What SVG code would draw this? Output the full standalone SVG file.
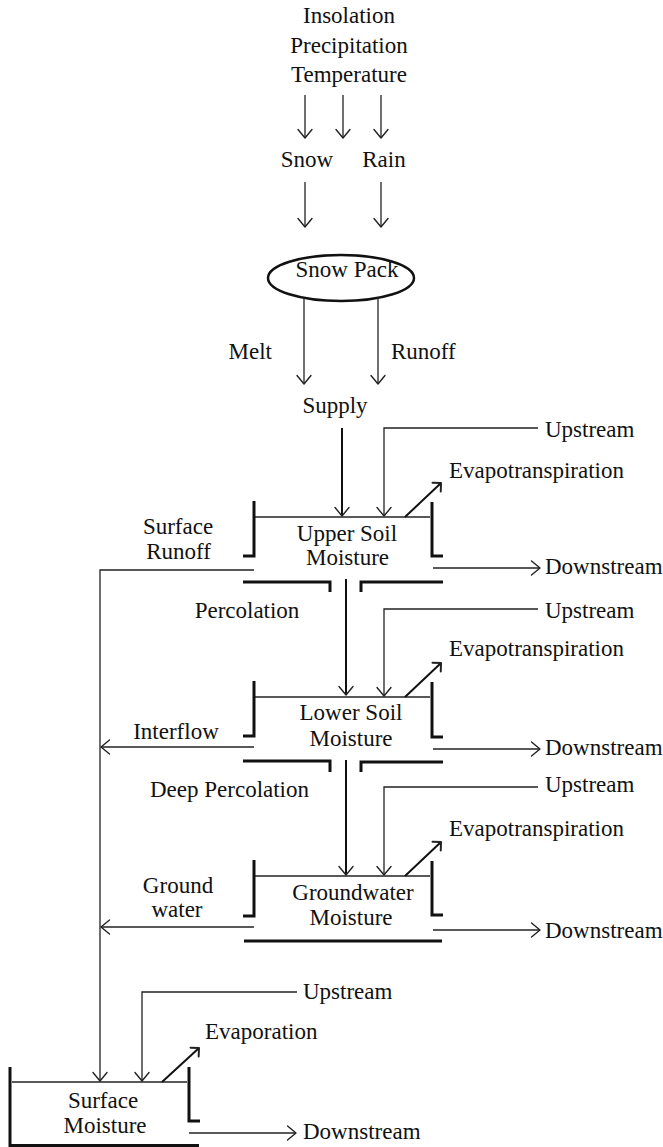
<svg xmlns="http://www.w3.org/2000/svg" width="663" height="1147" viewBox="0 0 663 1147">
<style>
text{font-family:"Liberation Serif","Times New Roman",serif;font-size:23px;fill:#111}
.m{text-anchor:middle}
.e{text-anchor:end}
.thin{fill:none;stroke:#222;stroke-width:1.3}
.med{fill:none;stroke:#111;stroke-width:2}
.thick{fill:none;stroke:#111;stroke-width:3}
.ah{fill:none;stroke:#222;stroke-width:1.4;stroke-linecap:round;stroke-linejoin:round}
</style>
<defs>
<marker id="arr" markerUnits="userSpaceOnUse" orient="auto" refX="0" refY="0" markerWidth="20" markerHeight="20" viewBox="-12 -10 14 20" overflow="visible">
<path class="ah" d="M-8.5,-7 L0,0 L-8.5,7"/>
</marker>
<marker id="arrE" markerUnits="userSpaceOnUse" orient="auto" refX="0" refY="0" markerWidth="20" markerHeight="20" viewBox="-12 -10 14 20" overflow="visible">
<path class="ah" d="M-6,-6 L0,0 L-6,6" style="stroke-width:2"/>
</marker>
</defs>

<g id="inputs">
<text class="m" x="349" y="23">Insolation</text>
<text class="m" x="349" y="53">Precipitation</text>
<text class="m" x="349" y="82">Temperature</text>
</g>
<g id="snow"><text class="m" x="307" y="167">Snow</text></g>
<g id="rain"><text class="m" x="384" y="167">Rain</text></g>
<g id="snowpack">
<ellipse cx="341" cy="278" rx="73" ry="23" fill="none" stroke="#111" stroke-width="2.5"/>
<text class="m" x="347" y="277">Snow Pack</text>
</g>
<g id="melt"><text class="e" x="272" y="359">Melt</text></g>
<g id="runoff"><text x="391" y="359">Runoff</text></g>
<g id="supply"><text class="m" x="335" y="413">Supply</text></g>

<g id="upper-soil">
<path class="thin" d="M255,517 H430"/>
<path class="thick" d="M254,501 V556 H243"/>
<path class="thick" d="M432,502 V556 H443"/>
<path class="thick" d="M243,582 H330 V592"/>
<path class="thick" d="M361,592 V582 H443"/>
<text class="m" x="347" y="541">Upper Soil</text>
<text class="m" x="347.5" y="565">Moisture</text>
</g>
<g id="lower-soil">
<path class="thin" d="M255,697 H430"/>
<path class="thick" d="M254,681 V736 H243"/>
<path class="thick" d="M432,682 V737 H443"/>
<path class="thick" d="M243,761 H330 V772"/>
<path class="thick" d="M361,772 V762 H443"/>
<text class="m" x="351" y="720">Lower Soil</text>
<text class="m" x="351" y="746">Moisture</text>
</g>
<g id="groundwater">
<path class="thin" d="M255,876 H430"/>
<path class="thick" d="M254,860 V916 H243"/>
<path class="thick" d="M432,861 V915 H443"/>
<path class="thick" d="M244,941 H442"/>
<text class="m" x="353" y="900">Groundwater</text>
<text class="m" x="351" y="925">Moisture</text>
</g>
<g id="surface-moisture">
<path class="thin" d="M12,1082 H187"/>
<path class="thick" d="M10,1067 V1145.5 H199"/>
<path class="thick" d="M189,1067 V1121 H200"/>
<text class="m" x="103" y="1108">Surface</text>
<text class="m" x="105" y="1133">Moisture</text>
</g>

<g id="labels">
<text x="545" y="437">Upstream</text>
<text x="449" y="478">Evapotranspiration</text>
<text x="545" y="574">Downstream</text>
<text class="m" x="178" y="534">Surface</text>
<text class="m" x="178.5" y="559">Runoff</text>
<text class="m" x="247" y="618">Percolation</text>
<text x="545" y="618">Upstream</text>
<text x="449" y="656">Evapotranspiration</text>
<text class="m" x="176" y="739">Interflow</text>
<text x="545" y="755">Downstream</text>
<text class="m" x="229.5" y="797">Deep Percolation</text>
<text x="545" y="792">Upstream</text>
<text x="449" y="836">Evapotranspiration</text>
<text class="m" x="178" y="893">Ground</text>
<text class="m" x="177" y="917">water</text>
<text x="545" y="938">Downstream</text>
<text x="303" y="999">Upstream</text>
<text x="205" y="1039">Evaporation</text>
<text x="303" y="1139">Downstream</text>
</g>

<g id="connectors">
<path class="thin" d="M305,95 V138" marker-end="url(#arr)"/>
<path class="thin" d="M343,95 V138" marker-end="url(#arr)"/>
<path class="thin" d="M381,95 V138" marker-end="url(#arr)"/>
<path class="thin" d="M305,182 V227" marker-end="url(#arr)"/>
<path class="thin" d="M381,182 V227" marker-end="url(#arr)"/>
<path class="thin" d="M304,298 V384" marker-end="url(#arr)"/>
<path class="thin" d="M378,297 V384" marker-end="url(#arr)"/>
<path class="med" d="M342,428 V516" marker-end="url(#arr)"/>
<path class="thin" d="M538,428 H384 V516" marker-end="url(#arr)"/>
<path class="med" d="M405,517 L441,483" marker-end="url(#arrE)"/>
<path class="thin" d="M433,568 H540" marker-end="url(#arr)"/>
<path class="thin" d="M254,570 H100 V1081" marker-end="url(#arr)"/>
<path class="med" d="M346,579 V695" marker-end="url(#arr)"/>
<path class="thin" d="M538,609 H384 V696" marker-end="url(#arr)"/>
<path class="med" d="M405,697 L441,663" marker-end="url(#arrE)"/>
<path class="thin" d="M254,747 H101" marker-end="url(#arr)"/>
<path class="thin" d="M433,749 H540" marker-end="url(#arr)"/>
<path class="med" d="M346,760 V875" marker-end="url(#arr)"/>
<path class="thin" d="M538,787 H384 V875" marker-end="url(#arr)"/>
<path class="med" d="M405,876 L441,842" marker-end="url(#arrE)"/>
<path class="thin" d="M254,927 H101" marker-end="url(#arr)"/>
<path class="thin" d="M433,930 H540" marker-end="url(#arr)"/>
<path class="thin" d="M297,992 H142 V1081" marker-end="url(#arr)"/>
<path class="med" d="M162,1082 L199,1048" marker-end="url(#arrE)"/>
<path class="thin" d="M189,1133 H296" marker-end="url(#arr)"/>
</g>
</svg>
